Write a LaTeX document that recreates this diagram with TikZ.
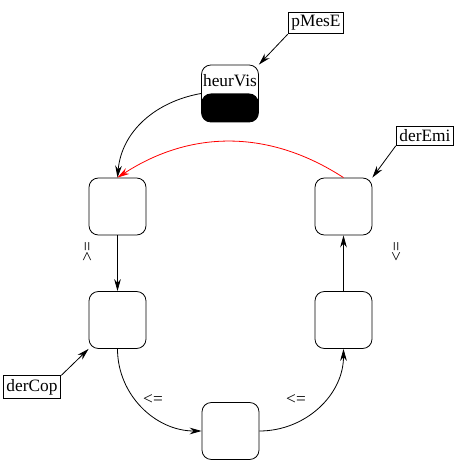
\documentclass[tikz,border=0pt]{standalone}
\usepackage{fontspec}
\setmainfont{Liberation Serif}
\usepackage{tikz}
\usetikzlibrary{arrows.meta, positioning}

\begin{document}
\begin{tikzpicture}[
    x=0.75pt, y=0.75pt,
    % Styles
    etat/.style={
        rectangle, rounded corners=7pt,
        minimum width=42.75pt, minimum height=42.75pt,
        draw=black, fill=white, line width=0.6pt
    },
    regle/.style={
        rectangle, draw=black, fill=white,
        inner sep=2.5pt, line width=0.6pt,
        font=\fontsize{13}{15}\selectfont
    },
    arrow/.style={-{Stealth[length=9pt, width=5pt]}, line width=0.6pt},
    cmp/.style={font=\fontsize{13}{15}\selectfont, inner sep=1pt}
]
\useasboundingbox (0,0) rectangle (455,460);

% === STATES (ring) ===
\node (etatA) [etat] at (117.5, 253.5) {};
\node (etatB) [etat] at (117.5, 140) {};
\node (etatC) [etat] at (230.5, 29) {};
\node (etatD) [etat] at (343.5, 140) {};
\node (etatE) [etat] at (343.5, 253.5) {};

% === HEUR VIS (half black) ===
\node (heurVis) [etat, path picture={
    \fill[black] (path picture bounding box.west) rectangle (path picture bounding box.south east);
}] at (230, 366.5) {};
\node (heurVisTxt) [cmp, anchor=base] at ([yshift=5.6pt]heurVis.center) {heurVis};

% === RULE BOXES ===
\node (pMesE) [regle] at (316, 437) {pMesE};
\node (derEmi) [regle] at (425, 324) {derEmi};
\node (derCop) [regle] at (32, 73) {derCop};

% === COMPARISON LABELS ===
\node (geA) [cmp, rotate=90] at (88, 208) {>=};
\node (leB) [cmp] at (153, 60) {<=};
\node (leC) [cmp] at (296, 60) {<=};
\node (leD) [cmp, rotate=90] at (397, 208) {<=};

% === ARROWS ===
\draw [arrow] (pMesE.south west) -- (heurVis.north east);
\draw [arrow] (derEmi.south west) -- (etatE.north east);
\draw [arrow] (derCop.north east) -- (etatB.south west);

\draw [arrow] (heurVis.west) to[out=190, in=85] (etatA.north);
\draw [arrow, red] (etatE.north) to[bend right=33] (etatA.north);

\draw [arrow] (etatA) -- (etatB);
\draw [arrow] (etatB.south) to[out=-90, in=180] (etatC.west);
\draw [arrow] (etatC.east) to[out=0, in=-90] (etatD.south);
\draw [arrow] (etatD) -- (etatE);

\end{tikzpicture}
\end{document}
